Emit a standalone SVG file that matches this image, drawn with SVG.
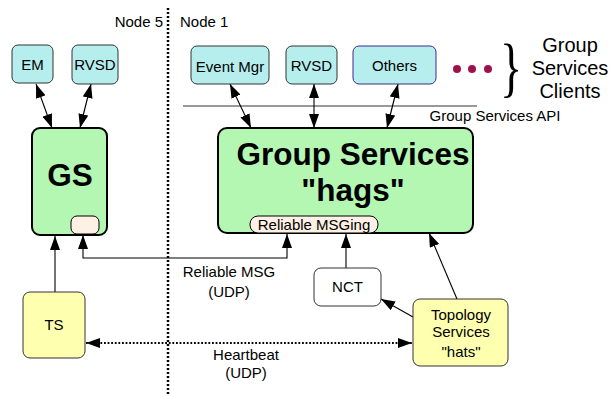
<svg xmlns="http://www.w3.org/2000/svg" width="612" height="394" viewBox="0 0 612 394">
  <defs>
    <marker id="arrow" viewBox="0 0 14 10" refX="14" refY="5" markerWidth="14" markerHeight="10" markerUnits="userSpaceOnUse" orient="auto-start-reverse">
      <path d="M0,0 L14,5 L0,10 z" fill="#000"/>
    </marker>
    <style>
      text { font-family: "Liberation Sans", Arial, sans-serif; fill: #000; }
      .lbl { font-size: 15px; text-anchor: middle; }
      .big { font-size: 31.5px; font-weight: bold; text-anchor: middle; }
      .client { fill: #b6eeee; stroke: #333; stroke-width: 1; }
      .gs { fill: #b3f7b3; stroke: #000; stroke-width: 2; }
      .pill { fill: #fdf0e4; stroke: #000; stroke-width: 1; }
      .ts { fill: #ffffb0; stroke: #333; stroke-width: 1; }
      .conn { fill: none; stroke: #000; stroke-width: 1.1; }
      .dots { fill: none; stroke: #000; stroke-width: 2.5; stroke-dasharray: 2 2; }
      .hb { fill: none; stroke: #000; stroke-width: 1.8; stroke-dasharray: 1.8 1.8; }
    </style>
  </defs>

  <!-- node boundary -->
  <g id="boundary">
    <line x1="168" y1="8" x2="168" y2="394" class="dots"/>
    <text x="163" y="27" font-size="15" text-anchor="end">Node 5</text>
    <text x="180" y="27" font-size="15">Node 1</text>
  </g>

  <!-- API line -->
  <g id="api">
    <line x1="183" y1="106" x2="477" y2="106" stroke="#777" stroke-width="1.3"/>
    <text x="495" y="121" class="lbl">Group Services API</text>
  </g>

  <!-- connectors -->
  <g id="connectors">
    <line x1="36" y1="84" x2="52" y2="128" class="conn" marker-start="url(#arrow)" marker-end="url(#arrow)"/>
    <line x1="91" y1="84" x2="80" y2="128" class="conn" marker-start="url(#arrow)" marker-end="url(#arrow)"/>
    <line x1="230" y1="84" x2="251" y2="128" class="conn" marker-start="url(#arrow)" marker-end="url(#arrow)"/>
    <line x1="314" y1="84" x2="314" y2="128" class="conn" marker-start="url(#arrow)" marker-end="url(#arrow)"/>
    <line x1="398" y1="84" x2="387" y2="128" class="conn" marker-start="url(#arrow)" marker-end="url(#arrow)"/>
    <!-- TS to GS -->
    <line x1="55" y1="292" x2="55" y2="236" class="conn" marker-end="url(#arrow)"/>
    <!-- reliable messaging between nodes -->
    <path d="M83,235 V258 H287 V234" class="conn" marker-start="url(#arrow)" marker-end="url(#arrow)"/>
    <!-- NCT to hags -->
    <line x1="346" y1="268" x2="346" y2="234" class="conn" marker-end="url(#arrow)"/>
    <!-- hats to hags -->
    <line x1="457" y1="299" x2="429" y2="233" class="conn" marker-end="url(#arrow)"/>
    <!-- hats to NCT -->
    <line x1="413" y1="317" x2="381" y2="299" class="conn" marker-end="url(#arrow)"/>
    <!-- heartbeat -->
    <line x1="86" y1="343" x2="412" y2="343" class="hb" marker-start="url(#arrow)" marker-end="url(#arrow)"/>
    <text x="229" y="277" class="lbl">Reliable MSG</text>
    <text x="229" y="297" class="lbl">(UDP)</text>
    <text x="246" y="360" class="lbl">Heartbeat</text>
    <text x="246" y="378" class="lbl">(UDP)</text>
  </g>

  <!-- clients on node 5 -->
  <g id="em">
    <rect x="12" y="45" width="41" height="38" rx="6" class="client"/>
    <text x="32.5" y="70" class="lbl">EM</text>
  </g>
  <g id="rvsd5">
    <rect x="72" y="45" width="46" height="39" rx="6" class="client"/>
    <text x="95" y="70" class="lbl">RVSD</text>
  </g>

  <!-- GS on node 5 -->
  <g id="gs">
    <rect x="32" y="128" width="75" height="107" rx="8" class="gs"/>
    <text x="70" y="186" class="big">GS</text>
    <rect x="71" y="216" width="28" height="18" rx="6" class="pill"/>
  </g>

  <!-- clients on node 1 -->
  <g id="eventmgr">
    <rect x="191" y="46" width="78" height="38" rx="6" class="client"/>
    <text x="230" y="72" class="lbl">Event Mgr</text>
  </g>
  <g id="rvsd1">
    <rect x="286" y="46" width="51" height="38" rx="6" class="client"/>
    <text x="311.5" y="71" class="lbl">RVSD</text>
  </g>
  <g id="others">
    <rect x="353" y="46" width="83" height="38" rx="6" class="client" style="stroke:#3c2a8c"/>
    <text x="394.5" y="71" class="lbl">Others</text>
  </g>

  <!-- more clients -->
  <g id="more">
    <circle cx="457" cy="69" r="4" fill="#a0104a"/>
    <circle cx="472" cy="69" r="4" fill="#a0104a"/>
    <circle cx="488" cy="69" r="4" fill="#a0104a"/>
    <text x="0" y="0" font-size="66" transform="translate(500,89) scale(0.7,1)" style="font-family:'Liberation Serif',serif">}</text>
    <text x="570" y="52" font-size="20" text-anchor="middle">Group</text>
    <text x="570" y="75" font-size="20" text-anchor="middle">Services</text>
    <text x="570" y="98" font-size="20" text-anchor="middle">Clients</text>
  </g>

  <!-- Group Services daemon on node 1 -->
  <g id="hags">
    <rect x="218" y="128" width="255" height="105" rx="9" class="gs"/>
    <text x="353" y="165" class="big">Group Services</text>
    <text x="353" y="201" class="big">"hags"</text>
    <rect x="250" y="216" width="128" height="17" rx="8" class="pill"/>
    <text x="314" y="230" class="lbl">Reliable MSGing</text>
  </g>

  <!-- NCT -->
  <g id="nct">
    <rect x="314" y="268" width="67" height="38" rx="7" fill="#fff" stroke="#333" stroke-width="1"/>
    <text x="347.5" y="292" class="lbl">NCT</text>
  </g>

  <!-- Topology Services -->
  <g id="ts">
    <rect x="23" y="292" width="62" height="66" rx="7" class="ts"/>
    <text x="54" y="330" class="lbl">TS</text>
  </g>
  <g id="hats">
    <rect x="413" y="299" width="95" height="67" rx="7" class="ts"/>
    <text x="461" y="320" class="lbl">Topology</text>
    <text x="461" y="337" class="lbl">Services</text>
    <text x="461" y="357" class="lbl">"hats"</text>
  </g>
</svg>
